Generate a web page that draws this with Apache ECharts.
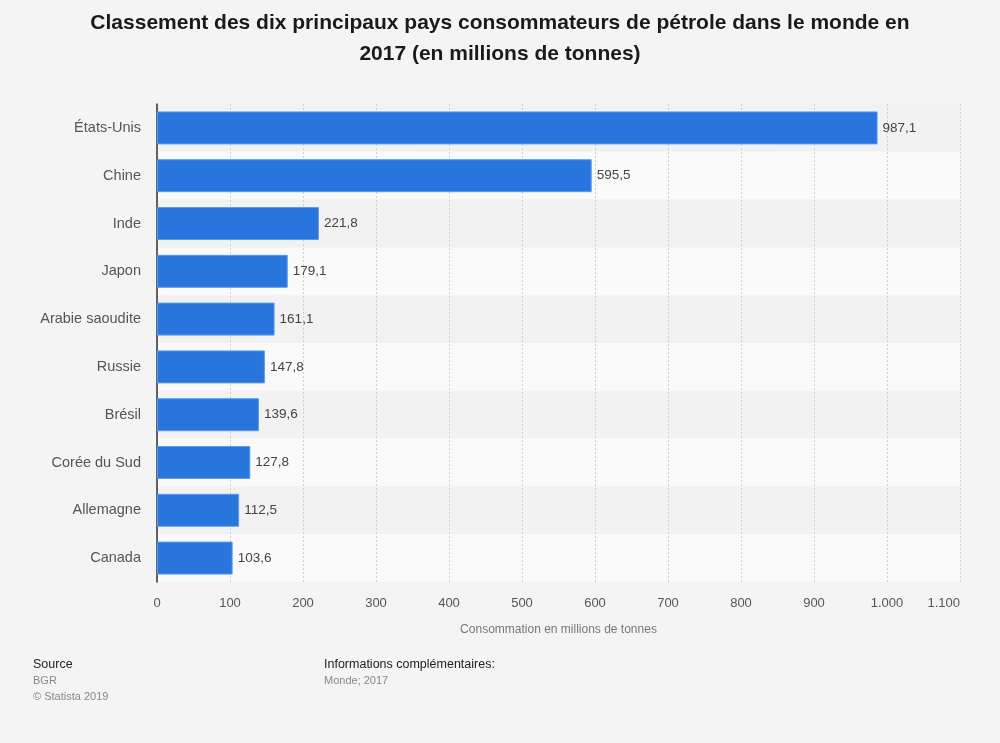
<!DOCTYPE html>
<html>
<head>
<meta charset="utf-8">
<script src="https://cdn.jsdelivr.net/npm/echarts@6/dist/echarts.min.js"></script>
<style>
html,body{margin:0;padding:0;background:#f4f4f4;}
#c{width:1000px;height:743px;}
</style>
</head>
<body>
<div id="c"></div>
<script>
const categories = ['États-Unis','Chine','Inde','Japon','Arabie saoudite','Russie','Brésil','Corée du Sud','Allemagne','Canada'];
const values = [987.1, 595.5, 221.8, 179.1, 161.1, 147.8, 139.6, 127.8, 112.5, 103.6];
const xTicks = {min: 0, max: 1100, interval: 100};

const chart = echarts.init(document.getElementById('c'), null, {renderer: 'canvas'});
const font = '"Liberation Sans", Arial, Helvetica, sans-serif';
chart.setOption({
  backgroundColor: '#f4f4f4',
  textStyle: {fontFamily: font},
  graphic: [
    {type: 'text', x: 500, y: 23, style: {text: 'Classement des dix principaux pays consommateurs de pétrole dans le monde en', fill: '#1a1a1a', font: 'bold 21px ' + font, align: 'center', verticalAlign: 'middle'}},
    {type: 'text', x: 500, y: 54, style: {text: '2017 (en millions de tonnes)', fill: '#1a1a1a', font: 'bold 21px ' + font, align: 'center', verticalAlign: 'middle'}},
    {type: 'text', left: 33, top: 658, style: {text: 'Source', fill: '#222', font: '12.5px ' + font}},
    {type: 'text', left: 33, top: 675, style: {text: 'BGR', fill: '#888', font: '11px ' + font}},
    {type: 'text', left: 33, top: 691, style: {text: '© Statista 2019', fill: '#888', font: '11px ' + font}},
    {type: 'text', left: 324, top: 658, style: {text: 'Informations complémentaires:', fill: '#222', font: '12.5px ' + font}},
    {type: 'text', left: 324, top: 675, style: {text: 'Monde; 2017', fill: '#888', font: '11px ' + font}}
  ],
  grid: {left: 157, right: 40, top: 104, bottom: 161, containLabel: false},
  xAxis: {
    type: 'value', min: xTicks.min, max: xTicks.max, interval: xTicks.interval,
    name: 'Consommation en millions de tonnes', nameLocation: 'middle', nameGap: 42,
    nameTextStyle: {color: '#777', fontSize: 12, fontFamily: font},
    axisLine: {show: false}, axisTick: {show: false},
    axisLabel: {color: '#555', fontSize: 13, margin: 15, fontFamily: font, alignMaxLabel: 'right',
      formatter: v => String(v).replace(/\B(?=(\d{3})+(?!\d))/g, '.')},
    splitLine: {show: true, lineStyle: {color: '#cfcfcf', type: [2, 2], width: 1}}
  },
  yAxis: {
    type: 'category', data: categories, inverse: true,
    axisLine: {show: true, lineStyle: {color: '#333', width: 1.5}},
    axisTick: {show: false},
    axisLabel: {color: '#555', fontSize: 14.5, margin: 16, fontFamily: font},
    splitArea: {show: true, areaStyle: {color: ['#f2f2f2', '#fafafa']}}
  },
  series: [{
    type: 'bar', data: values, barWidth: '69%',
    itemStyle: {color: '#2876dd', borderColor: '#5d9be8', borderWidth: 1},
    label: {show: true, position: 'right', distance: 5, color: '#444', fontSize: 13.5, fontFamily: font,
      formatter: p => p.value.toFixed(1).replace('.', ',')},
    silent: true
  }]
});
</script>
</body>
</html>
